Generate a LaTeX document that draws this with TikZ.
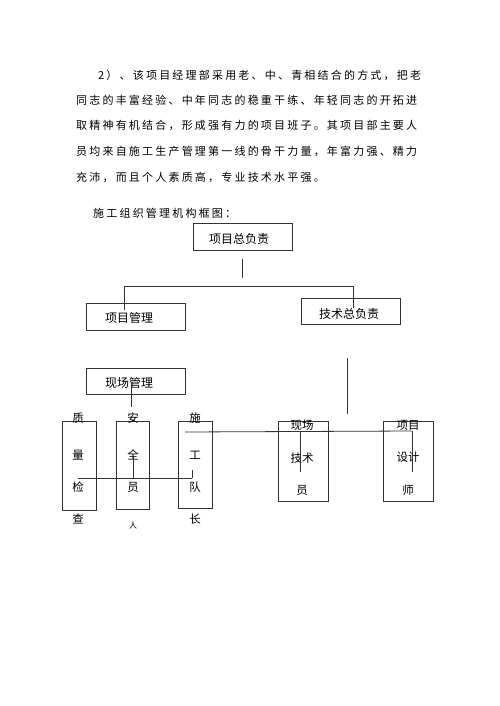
\documentclass[tikz,border=0pt]{standalone}
\usepackage{fontspec}
\setmainfont{Noto Sans CJK SC}
\newfontfamily\parafont[LetterSpace=20]{Noto Sans CJK SC}
\usepackage{tikz}

\begin{document}
\begin{tikzpicture}[x=1bp,y=-1bp,
  box/.style={draw=black!80,line width=0.8bp,inner sep=0pt},
  para/.style={anchor=west,inner sep=0pt,text=black,font=\parafont\fontsize{11bp}{13bp}\selectfont},
  lbl/.style={inner sep=0pt,text=black,font=\fontsize{12bp}{14bp}\selectfont},
  ch/.style={inner sep=0pt,text=black,font=\fontsize{11.5bp}{13bp}\selectfont},
  wire/.style={draw=black!80,line width=0.8bp}]
\useasboundingbox[fill=white] (0,0) rectangle (500,706);

% text above the chart
\node[para] (p1) at (98,75) {2）、该项目经理部采用老、中、青相结合的方式，把老};
\node[para] (p2) at (76,100) {同志的丰富经验、中年同志的稳重干练、年轻同志的开拓进};
\node[para] (p3) at (76,125) {取精神有机结合，形成强有力的项目班子。其项目部主要人};
\node[para] (p4) at (76,151) {员均来自施工生产管理第一线的骨干力量，年富力强、精力};
\node[para] (p5) at (76,177) {充沛，而且个人素质高，专业技术水平强。};
\node[para] (cap) at (93,213) {施工组织管理机构框图：};

% upper boxes
\node[box,minimum width=99bp,minimum height=27bp] (zfz) at (242.5,236.5) {};
\node[lbl] (zfzt) at (239,239) {项目总负责};
\node[box,minimum width=99bp,minimum height=27bp] (xmgl) at (135.5,316.5) {};
\node[lbl] (xmglt) at (129,318) {项目管理};
\node[box,minimum width=99bp,minimum height=26bp] (jsfz) at (350.5,311) {};
\node[lbl] (jsfzt) at (349,314) {技术总负责};
\node[box,minimum width=99bp,minimum height=26bp] (xcgl) at (135.5,381) {};
\node[lbl] (xcglt) at (129,383) {现场管理};

% lower boxes
\node[box,minimum width=34bp,minimum height=89bp] (zljc) at (79,465.5) {};
\node[box,minimum width=33bp,minimum height=88bp] (aqy) at (132.5,465) {};
\node[box,minimum width=34bp,minimum height=87bp] (sgdz) at (195,464.5) {};
\node[box,minimum width=50bp,minimum height=80bp] (jsy) at (303,461) {};
\node[box,minimum width=50bp,minimum height=80bp] (sjs) at (408,461) {};

\node[ch] (zl1) at (78,418) {质};
\node[ch] (zl2) at (78,455) {量};
\node[ch] (zl3) at (78,487) {检};
\node[ch] (zl4) at (78,519) {查};
\node[ch] (aq1) at (133,418) {安};
\node[ch] (aq2) at (133,455) {全};
\node[ch] (aq3) at (133,487) {员};
\node[ch,font=\fontsize{8bp}{9bp}\selectfont] (aq4) at (133,525) {人};
\node[ch] (sg1) at (195,418) {施};
\node[ch] (sg2) at (195,455) {工};
\node[ch] (sg3) at (195,487) {队};
\node[ch] (sg4) at (195,519) {长};
\node[ch] (js1) at (302,425) {现场};
\node[ch] (js2) at (302,458) {技术};
\node[ch] (js3) at (302,490) {员};
\node[ch] (sj1) at (408,425) {项目};
\node[ch] (sj2) at (408,457) {设计};
\node[ch] (sj3) at (408,490) {师};

% loose line ends
\coordinate (a1) at (242,259);
\coordinate (a2) at (242,278);
\coordinate (b1) at (124,286);
\coordinate (b2) at (353,286);
\coordinate (b3) at (124,310);
\coordinate (b4) at (353,308);
\coordinate (c1) at (131,382);
\coordinate (c2) at (131,407);
\coordinate (d1) at (347,358);
\coordinate (d2) at (347,414);
\coordinate (e1) at (185,432);
\coordinate (e2) at (412,431);
\coordinate (e3) at (300,431);
\coordinate (e4) at (300,472);
\coordinate (e5) at (412,472);
\coordinate (f1) at (78,478);
\coordinate (f2) at (192,478);
\coordinate (f3) at (133,457);
\coordinate (f4) at (133,478);
\coordinate (f5) at (192,470);

\draw[wire] (a1) -- (a2);
\draw[wire] (b3) -- (b1) -- (b2) -- (b4);
\draw[wire] (c1) -- (c2);
\draw[wire] (d1) -- (d2);
\draw[wire] (e1) -- (e2);
\draw[wire] (e3) -- (e4);
\draw[wire] (e2) -- (e5);
\draw[wire] (f1) -- (f2);
\draw[wire] (f3) -- (f4);
\draw[wire] (f5) -- (f2);

\end{tikzpicture}
\end{document}
